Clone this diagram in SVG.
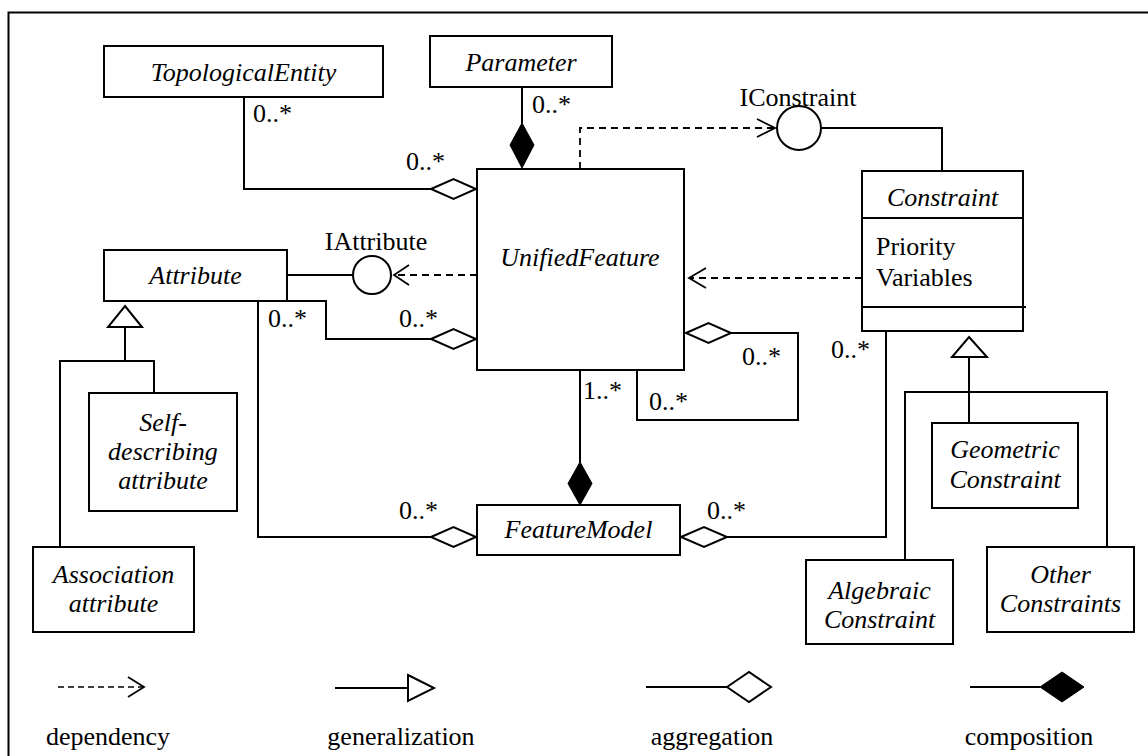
<svg xmlns="http://www.w3.org/2000/svg" width="1148" height="756" viewBox="0 0 1148 756">
  <style>
    .box { fill: #fff; stroke: #000; stroke-width: 2; }
    .ln { fill: none; stroke: #000; stroke-width: 2; }
    .dash { fill: none; stroke: #000; stroke-width: 1.8; stroke-dasharray: 7 5; }
    .open { fill: none; stroke: #000; stroke-width: 1.8; }
    .agg { fill: #fff; stroke: #000; stroke-width: 2; }
    .comp { fill: #000; stroke: #000; stroke-width: 1; }
    text { font-family: "Liberation Serif", "Times New Roman", serif; font-size: 26px; fill: #000; }
    .cls { font-style: italic; text-anchor: middle; }
    .mid { text-anchor: middle; }
  </style>

  <!-- frame -->
  <path class="ln" d="M 8.5 756 V 12.5 H 1148" stroke-width="2.5"/>

  <!-- connectors -->
  <g id="connectors">
    <!-- TopologicalEntity aggregation -->
    <path class="ln" d="M 244 97 V 189 H 431"/>
    <polygon class="agg" points="431,189 453.5,179 476,189 453.5,199"/>
    <!-- Parameter composition -->
    <path class="ln" d="M 522 87 V 123"/>
    <polygon class="comp" points="522,123 534,145 522,168 510,145"/>
    <!-- UnifiedFeature depends on IConstraint -->
    <path class="dash" d="M 580 169 V 128 H 775"/>
    <polyline class="open" points="757,119 775,128 757,137"/>
    <circle class="ln" cx="799" cy="128" r="22" fill="#fff"/>
    <path class="ln" d="M 821 128 H 942 V 171"/>
    <!-- Constraint depends on UnifiedFeature -->
    <path class="dash" d="M 862 278 H 689"/>
    <polyline class="open" points="706,268 689,278 706,288"/>
    <!-- UnifiedFeature depends on IAttribute -->
    <path class="dash" d="M 477 275 H 394"/>
    <polyline class="open" points="409,265 394,275 409,285"/>
    <path class="ln" d="M 287 275 H 353"/>
    <circle class="ln" cx="372" cy="275" r="19" fill="#fff"/>
    <!-- Attribute aggregation into UnifiedFeature -->
    <path class="ln" d="M 287 301 H 326 V 339 H 431"/>
    <polygon class="agg" points="431,339 453.5,329 476,339 453.5,349"/>
    <!-- Attribute aggregation into FeatureModel -->
    <path class="ln" d="M 258 301 V 537 H 431"/>
    <polygon class="agg" points="431,537 453.5,527 476,537 453.5,547"/>
    <!-- UnifiedFeature self aggregation -->
    <path class="ln" d="M 731 333 H 798 V 420 H 637 V 370"/>
    <polygon class="agg" points="686,333 708.5,323 731,333 708.5,343"/>
    <!-- UnifiedFeature composed into FeatureModel -->
    <path class="ln" d="M 580 370 V 463"/>
    <polygon class="comp" points="580,462 592,483.5 580,505 568,483.5"/>
    <!-- Constraint aggregation into FeatureModel -->
    <path class="ln" d="M 886 331 V 537 H 727"/>
    <polygon class="agg" points="681,537 704,527 727,537 704,547"/>
    <!-- Attribute generalization -->
    <polygon class="agg" points="125,306 142,327 108,327"/>
    <path class="ln" d="M 125 327 V 361 M 60 547 V 361 H 154 V 393"/>
    <!-- Constraint generalization -->
    <polygon class="agg" points="969,337 987,357 952,357"/>
    <path class="ln" d="M 969 357 V 423 M 905 560 V 392 H 1107 V 547"/>
  </g>

  <!-- multiplicities and interface labels -->
  <g id="labels">
    <text x="253" y="122">0..*</text>
    <text x="406" y="170">0..*</text>
    <text x="532" y="113">0..*</text>
    <text x="268" y="327">0..*</text>
    <text x="399" y="327">0..*</text>
    <text x="742" y="365">0..*</text>
    <text x="649" y="410">0..*</text>
    <text x="583" y="399">1..*</text>
    <text x="831" y="358">0..*</text>
    <text x="399" y="519">0..*</text>
    <text x="707" y="519">0..*</text>
    <text class="mid" x="798" y="106">IConstraint</text>
    <text class="mid" x="376" y="250">IAttribute</text>
  </g>

  <g id="TopologicalEntity">
    <rect class="box" x="104" y="46" width="279" height="51"/>
    <text class="cls" x="243.5" y="81">TopologicalEntity</text>
  </g>
  <g id="Parameter">
    <rect class="box" x="430" y="36" width="182" height="51"/>
    <text class="cls" x="521" y="71">Parameter</text>
  </g>
  <g id="UnifiedFeature">
    <rect class="box" x="477" y="169" width="207" height="201"/>
    <text class="cls" x="580" y="266">UnifiedFeature</text>
  </g>
  <g id="Constraint">
    <rect class="box" x="862" y="171" width="161" height="160"/>
    <path class="ln" d="M 862 218 H 1023 M 862 307 H 1026"/>
    <text class="cls" x="942.5" y="206">Constraint</text>
    <text x="876" y="255">Priority</text>
    <text x="876" y="286">Variables</text>
  </g>
  <g id="Attribute">
    <rect class="box" x="104" y="250" width="183" height="51"/>
    <text class="cls" x="195.5" y="284">Attribute</text>
  </g>
  <g id="SelfDescribingAttribute">
    <rect class="box" x="89" y="393" width="148" height="118"/>
    <text class="cls" x="163" y="431">Self-</text>
    <text class="cls" x="163" y="460">describing</text>
    <text class="cls" x="163" y="489">attribute</text>
  </g>
  <g id="AssociationAttribute">
    <rect class="box" x="33" y="547" width="161" height="85"/>
    <text class="cls" x="113.5" y="583">Association</text>
    <text class="cls" x="113.5" y="612">attribute</text>
  </g>
  <g id="FeatureModel">
    <rect class="box" x="477" y="505" width="203" height="50"/>
    <text class="cls" x="578.5" y="538">FeatureModel</text>
  </g>
  <g id="GeometricConstraint">
    <rect class="box" x="932" y="423" width="146" height="85"/>
    <text class="cls" x="1005" y="458">Geometric</text>
    <text class="cls" x="1005" y="488">Constraint</text>
  </g>
  <g id="AlgebraicConstraint">
    <rect class="box" x="806" y="560" width="147" height="84"/>
    <text class="cls" x="879.5" y="599">Algebraic</text>
    <text class="cls" x="879.5" y="628">Constraint</text>
  </g>
  <g id="OtherConstraints">
    <rect class="box" x="987" y="547" width="147" height="85"/>
    <text class="cls" x="1060.5" y="583">Other</text>
    <text class="cls" x="1060.5" y="612">Constraints</text>
  </g>

  <!-- legend -->
  <g id="legend">
    <path d="M 58 687 H 143" fill="none" stroke="#000" stroke-width="1.5" stroke-dasharray="6 4"/>
    <polyline class="open" points="128,677 144,687 128,697"/>
    <path class="ln" d="M 335 688 H 408"/>
    <polygon class="agg" points="408,675 434,688 408,701"/>
    <path class="ln" d="M 646 687 H 727"/>
    <polygon class="agg" points="727,687 749,672 771,687 749,702"/>
    <path class="ln" d="M 970 687 H 1040"/>
    <polygon class="comp" points="1040,687 1062,672 1084,687 1062,702"/>
    <text class="mid" x="108" y="745">dependency</text>
    <text class="mid" x="401" y="745">generalization</text>
    <text class="mid" x="712" y="745">aggregation</text>
    <text class="mid" x="1029" y="745">composition</text>
  </g>
</svg>
